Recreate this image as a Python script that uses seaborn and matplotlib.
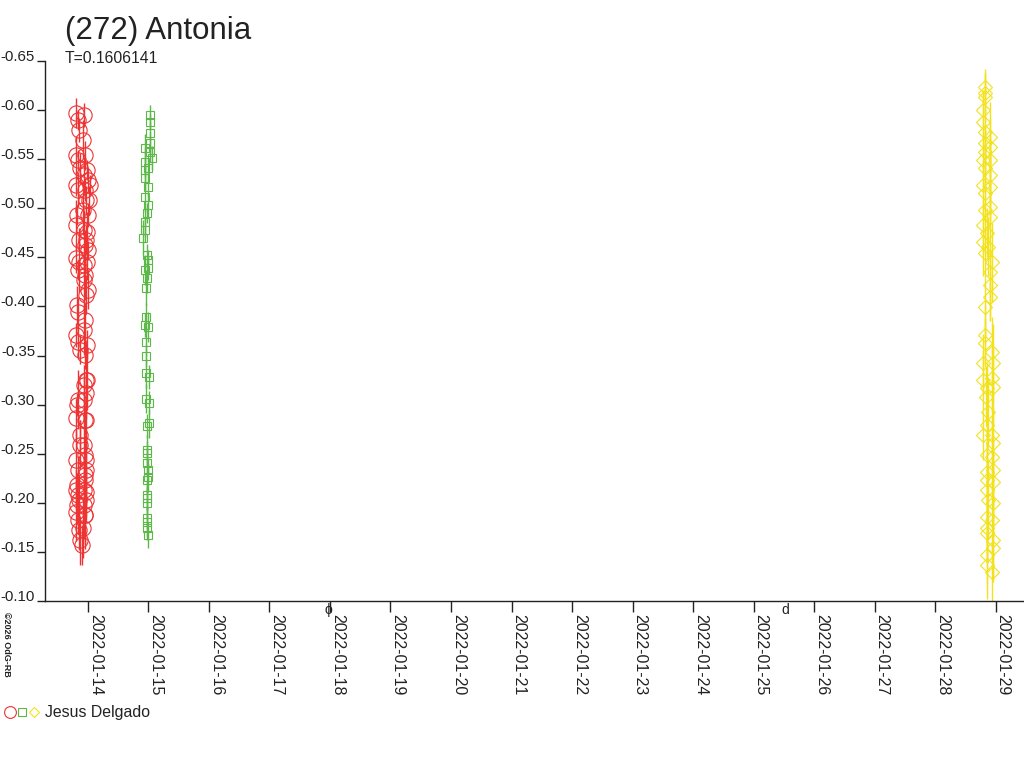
import numpy as np
import pandas as pd
import matplotlib
matplotlib.use('Agg')
import matplotlib.pyplot as plt
from matplotlib.lines import Line2D
from matplotlib.legend_handler import HandlerTuple
import seaborn as sns

title = '(272) Antonia'
subtitle = 'T=0.1606141'
observer = 'Jesus Delgado'
credit = '©2026 OdG-RB'

# day of January 2022 (fractional), magnitude, error
red_day = [13.80, 13.83, 13.85, 13.81, 13.84, 13.87, 13.80, 13.83, 13.82, 13.80,
           13.85, 13.80, 13.85, 13.83, 13.82, 13.84, 13.80, 13.84, 13.87, 13.83,
           13.82, 13.80, 13.87, 13.87, 13.80, 13.83, 13.82, 13.80, 13.83, 13.85,
           13.82, 13.80, 13.83, 13.85, 13.87, 13.93, 13.92, 13.95, 13.93, 13.95,
           13.97, 13.92, 13.93, 13.95, 13.93, 13.93, 13.97, 13.95, 13.93, 13.95,
           13.97, 13.93, 13.95, 13.93, 13.97, 13.95, 13.93, 13.97, 13.95, 13.91,
           13.98, 14.00, 14.03, 14.02, 14.00, 13.98, 13.97, 14.00, 13.98, 13.95,
           14.00, 13.98, 13.98, 13.97, 13.93, 13.97, 13.95, 13.97, 13.95, 13.97,
           13.93, 13.95, 13.90]
red_mag = [-0.597, -0.590, -0.580, -0.554, -0.549, -0.541, -0.524, -0.519, -0.493, -0.483,
           -0.468, -0.449, -0.445, -0.437, -0.401, -0.394, -0.371, -0.364, -0.356, -0.305,
           -0.300, -0.286, -0.269, -0.259, -0.244, -0.233, -0.218, -0.213, -0.208, -0.203,
           -0.198, -0.191, -0.183, -0.172, -0.162, -0.595, -0.570, -0.554, -0.534, -0.519,
           -0.508, -0.498, -0.478, -0.463, -0.442, -0.427, -0.412, -0.386, -0.376, -0.351,
           -0.325, -0.320, -0.284, -0.259, -0.244, -0.228, -0.213, -0.203, -0.188, -0.174,
           -0.539, -0.529, -0.524, -0.508, -0.493, -0.476, -0.468, -0.457, -0.445, -0.432,
           -0.417, -0.361, -0.325, -0.312, -0.305, -0.284, -0.249, -0.233, -0.223, -0.211,
           -0.198, -0.188, -0.157]
red_err = [0.015, 0.010, 0.012, 0.020, 0.010, 0.015, 0.012, 0.018, 0.010, 0.025,
           0.012, 0.015, 0.030, 0.010, 0.020, 0.015, 0.012, 0.018, 0.015, 0.030,
           0.012, 0.020, 0.015, 0.025, 0.030, 0.015, 0.012, 0.020, 0.015, 0.025,
           0.020, 0.030, 0.015, 0.020, 0.025, 0.012, 0.020, 0.015, 0.018, 0.012,
           0.015, 0.025, 0.020, 0.015, 0.012, 0.035, 0.020, 0.018, 0.025, 0.015,
           0.040, 0.020, 0.015, 0.030, 0.020, 0.025, 0.030, 0.020, 0.035, 0.030,
           0.010, 0.012, 0.010, 0.015, 0.012, 0.020, 0.015, 0.010, 0.018, 0.025,
           0.020, 0.015, 0.030, 0.020, 0.025, 0.030, 0.020, 0.035, 0.030, 0.025,
           0.035, 0.030, 0.020]

green_day = [15.03, 15.03, 15.03, 15.03, 14.94, 15.03, 15.06, 14.94, 14.99, 14.94,
             14.94, 14.99, 14.94, 14.99, 14.98, 14.94, 14.94, 14.91, 14.98, 14.99,
             14.94, 14.99, 14.98, 14.96, 14.96, 14.94, 14.99, 14.96, 14.96, 14.96,
             15.01, 14.96, 15.01, 15.01, 14.98, 14.98, 14.98, 14.98, 14.99, 14.99,
             14.98, 14.98, 14.98, 14.98, 14.98, 14.98, 14.98, 14.99]
green_mag = [-0.595, -0.588, -0.577, -0.566, -0.561, -0.557, -0.551, -0.547, -0.541, -0.539,
             -0.531, -0.522, -0.511, -0.503, -0.495, -0.486, -0.478, -0.470, -0.452, -0.447,
             -0.437, -0.439, -0.429, -0.419, -0.389, -0.381, -0.379, -0.364, -0.350, -0.332,
             -0.328, -0.306, -0.302, -0.281, -0.278, -0.254, -0.251, -0.241, -0.233, -0.226,
             -0.223, -0.208, -0.205, -0.200, -0.185, -0.180, -0.174, -0.167]
green_err = [0.010, 0.008, 0.010, 0.012, 0.015, 0.010, 0.012, 0.015, 0.010, 0.012,
             0.012, 0.010, 0.015, 0.012, 0.010, 0.015, 0.012, 0.018, 0.012, 0.010,
             0.015, 0.012, 0.015, 0.018, 0.015, 0.012, 0.015, 0.015, 0.012, 0.015,
             0.012, 0.015, 0.012, 0.015, 0.012, 0.015, 0.012, 0.015, 0.012, 0.015,
             0.012, 0.015, 0.012, 0.015, 0.012, 0.015, 0.012, 0.013]

yellow_day = [28.83, 28.83, 28.83, 28.79, 28.79, 28.83, 28.91, 28.83, 28.91, 28.83,
              28.79, 28.91, 28.83, 28.91, 28.79, 28.91, 28.83, 28.91, 28.83, 28.91,
              28.79, 28.86, 28.79, 28.88, 28.83, 28.94, 28.91, 28.91, 28.91, 28.83,
              28.83, 28.83, 28.94, 28.79, 28.96, 28.79, 28.94, 28.86, 28.96, 28.84,
              28.88, 28.86, 28.79, 28.94, 28.96, 28.86, 28.94, 28.96, 28.86, 28.86,
              28.96, 28.86, 28.88, 28.96, 28.86, 28.94, 28.86, 28.86, 28.96, 28.96,
              28.86, 28.86, 28.94]
yellow_mag = [-0.624, -0.617, -0.613, -0.600, -0.588, -0.578, -0.573, -0.566, -0.562, -0.557,
              -0.549, -0.549, -0.541, -0.534, -0.524, -0.522, -0.516, -0.501, -0.498, -0.491,
              -0.483, -0.475, -0.466, -0.461, -0.454, -0.445, -0.435, -0.422, -0.410, -0.399,
              -0.371, -0.363, -0.354, -0.342, -0.342, -0.325, -0.327, -0.317, -0.318, -0.308,
              -0.292, -0.279, -0.269, -0.269, -0.261, -0.249, -0.247, -0.233, -0.231, -0.223,
              -0.221, -0.213, -0.203, -0.200, -0.186, -0.182, -0.174, -0.169, -0.162, -0.154,
              -0.147, -0.137, -0.130]
yellow_err = [0.018, 0.020, 0.025, 0.020, 0.030, 0.025, 0.035, 0.020, 0.030, 0.025,
              0.030, 0.025, 0.020, 0.030, 0.025, 0.035, 0.030, 0.025, 0.030, 0.040,
              0.030, 0.025, 0.035, 0.030, 0.025, 0.040, 0.030, 0.035, 0.025, 0.030,
              0.030, 0.025, 0.035, 0.030, 0.040, 0.030, 0.035, 0.025, 0.040, 0.030,
              0.035, 0.030, 0.025, 0.040, 0.035, 0.030, 0.040, 0.035, 0.030, 0.040,
              0.035, 0.030, 0.040, 0.035, 0.030, 0.040, 0.035, 0.030, 0.040, 0.035,
              0.030, 0.035, 0.030]

tick_days = list(range(14, 30))
y_ticks = [-0.65, -0.60, -0.55, -0.50, -0.45, -0.40, -0.35, -0.30,
           -0.25, -0.20, -0.15, -0.10]
moon_days = [17.975, 25.53]
moon_marks = ['ϕ', 'd']

JAN = pd.Timestamp('2022-01-01')


def to_date(days):
    return JAN + pd.to_timedelta(np.asarray(days, dtype=float) - 1, unit='D')


def main():
    sns.set_theme(style='white')
    plt.rcParams['font.family'] = ['Liberation Sans', 'DejaVu Sans']
    ink = '#222222'

    nights = [
        (red_day, red_mag, red_err, '#ee3333', 'o', 11),
        (green_day, green_mag, green_err, '#5cb848', 's', 6),
        (yellow_day, yellow_mag, yellow_err, '#f2e21c', 'D', 6.8),
    ]

    fig = plt.figure(figsize=(10.24, 7.68), dpi=100)
    ax = fig.add_axes([45 / 1024, 1 - 601 / 768, 979 / 1024, 540 / 768])

    for day, mag, err, color, marker, size in nights:
        ax.errorbar(to_date(day), mag, yerr=err, fmt=marker, ms=size,
                    mfc='none', mec=color, mew=0.8, ecolor=color,
                    elinewidth=1.0, capsize=0, clip_on=False)

    ax.set_xlim(to_date(13.29), to_date(29.47))
    ax.set_ylim(-0.10, -0.65)

    ax.set_yticks(y_ticks, labels=[f'{v:.2f}' for v in y_ticks], va='baseline')
    ax.set_xticks(to_date(tick_days),
                  labels=[d.strftime('%Y-%m-%d') for d in to_date(tick_days)],
                  rotation=-90, ha='left', va='top')
    ax.tick_params(axis='y', length=6, width=1, color=ink, pad=1.2,
                   labelsize=10.8, labelcolor=ink, left=True)
    ax.tick_params(axis='x', length=8, width=1, color=ink, pad=1,
                   labelsize=11.5, labelcolor=ink, bottom=True)
    sns.despine(ax=ax)
    for side in ['left', 'bottom']:
        ax.spines[side].set_color(ink)
        ax.spines[side].set_linewidth(1)
    ax.grid(False)

    for day, mark in zip(moon_days, moon_marks):
        ax.text(to_date(day), -0.098, mark, ha='center', va='top',
                fontsize=10, color=ink, clip_on=False)

    fig.text(65 / 1024, 1 - 39.5 / 768, title, fontsize=22.5, color=ink,
             ha='left', va='baseline')
    fig.text(65 / 1024, 1 - 63 / 768, subtitle, fontsize=11.3, color=ink,
             ha='left', va='baseline')
    fig.text(2 / 1024, 1 - 612 / 768, credit, fontsize=6.5, weight='bold',
             rotation=-90, color=ink, ha='left', va='top')

    handles = tuple(
        Line2D([], [], ls='none', marker=m, ms=s, mfc='none', mec=c, mew=0.8)
        for (_, _, _, c, m, _), s in zip(nights, [8.5, 5.5, 5])
    )
    fig.legend(handles=[handles], labels=[observer],
               handler_map={tuple: HandlerTuple(ndivide=None, pad=0.15)},
               loc='center left', bbox_to_anchor=(5 / 1024, 1 - 713 / 768),
               frameon=False, borderpad=0, borderaxespad=0, handlelength=2.1,
               handletextpad=0.45, fontsize=11.4, labelcolor=ink)

    fig.savefig('out.png', dpi=100)


if __name__ == '__main__':
    main()
